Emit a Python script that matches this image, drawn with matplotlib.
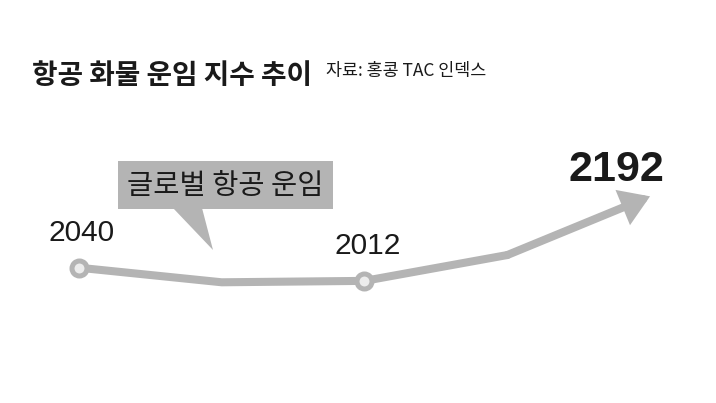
import matplotlib.pyplot as plt
from matplotlib.patches import Rectangle, Polygon

# index values, left to right
values = [2040, 2009, 2012, 2067, 2192]
point_labels = ['2040', '', '2012', '', '2192']
marked = [0, 2]

title = '항공 화물 운임 지수 추이'
source = '자료: 홍콩 TAC 인덱스'
callout = '글로벌 항공 운임'

GRAY = '#b4b4b4'
INK = '#1a1a1a'
KR = ['Noto Sans CJK KR', 'DejaVu Sans']
NUM = ['Liberation Sans', 'DejaVu Sans']

W, H = 716, 403
fig = plt.figure(figsize=(W / 100, H / 100), dpi=100)
ax = fig.add_axes([0, 0, 1, 1])
ax.set_xlim(-0.553, 4.462)
ax.set_ylim(1752, 2610)
ax.axis('off')


def px(x, y):
    return (x / W, 1 - y / H)


x = list(range(len(values)))

# line up to last vertex, then the arrow segment
ax.plot(x[:4], values[:4], color=GRAY, lw=5.8, solid_capstyle='round',
        solid_joinstyle='round', zorder=2)
ax.annotate('', xy=(x[4], values[4]), xytext=(x[3], values[3]),
            arrowprops=dict(arrowstyle='-|>,head_length=0.65,head_width=0.42',
                            mutation_scale=20, lw=5.8, color=GRAY,
                            shrinkA=0, shrinkB=0, joinstyle='miter'),
            zorder=2)

ax.plot([x[i] for i in marked], [values[i] for i in marked], 'o',
        ms=10.8, mew=3.6, mfc='#ececec', mec=GRAY, zorder=3)

for i, lab in enumerate(point_labels):
    if not lab:
        continue
    if i == len(values) - 1:
        ax.annotate(lab, (x[i], values[i]), xytext=(-24, 11),
                    textcoords='offset points', ha='center', va='baseline',
                    fontsize=31, fontweight='bold', family=NUM, color=INK)
    else:
        ax.annotate(lab, (x[i], values[i]), xytext=(2, 19.5),
                    textcoords='offset points', ha='center', va='baseline',
                    fontsize=21.5, family=NUM, color=INK)

# callout box with pointer
ax.add_patch(Rectangle(px(118, 209), (333 - 118) / W, (209 - 161) / H,
                       transform=fig.transFigure, color=GRAY, lw=0, zorder=1))
ax.add_patch(Polygon([px(173, 208), px(202, 208), px(213, 250)], closed=True,
                     transform=fig.transFigure, color=GRAY, lw=0, zorder=1))
fig.text(*px(225, 186), callout, ha='center', va='center', fontsize=20.5,
         family=KR, color=INK)

fig.text(*px(32, 76), title, ha='left', va='center', fontsize=20,
         fontweight='bold', family=KR, color=INK)
fig.text(*px(326, 71), source, ha='left', va='center', fontsize=12.5,
         family=KR, color=INK)

fig.savefig('out.png', dpi=100)
